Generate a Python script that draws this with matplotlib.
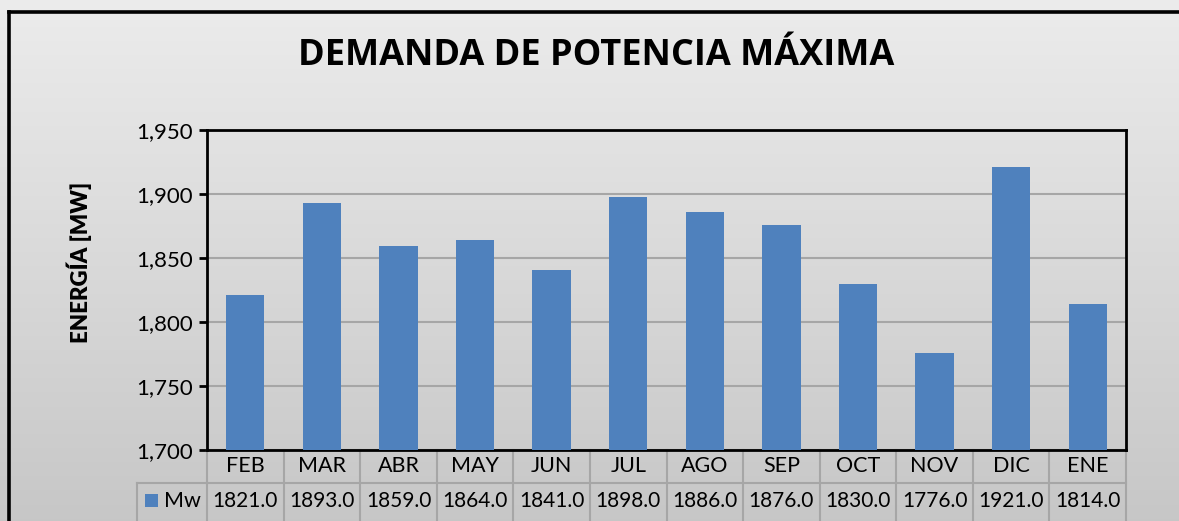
import numpy as np
import matplotlib
matplotlib.use("Agg")
import matplotlib.pyplot as plt
from matplotlib.patches import Rectangle
from matplotlib.lines import Line2D
from matplotlib.ticker import FuncFormatter

categories = ["FEB", "MAR", "ABR", "MAY", "JUN", "JUL", "AGO", "SEP", "OCT", "NOV", "DIC", "ENE"]
values = [1821.0, 1893.0, 1859.0, 1864.0, 1841.0, 1898.0, 1886.0, 1876.0, 1830.0, 1776.0, 1921.0, 1814.0]
series_name = "Mw"
title = "DEMANDA DE POTENCIA MÁXIMA"
ylabel = "ENERGÍA [MW]"
yticks = [1700, 1750, 1800, 1850, 1900, 1950]

W, H = 1179, 521
BAR = "#4F81BD"
GRID = "#A6A6A6"
FONT = "Lato"

fig = plt.figure(figsize=(W / 100, H / 100), dpi=100)

# background gradient
bg = fig.add_axes([0, 0, 1, 1], zorder=-10)
grad = np.linspace(0.925, 0.78, 256).reshape(-1, 1)
bg.imshow(np.dstack([grad, grad, grad]), aspect="auto", extent=[0, 1, 0, 1], origin="upper")
bg.set_xlim(0, 1)
bg.set_ylim(0, 1)
bg.axis("off")

def fx(px):
    return px / W

def fy(py):
    return 1 - py / H

# outer border (cropped at right/bottom)
fig.add_artist(Line2D([fx(8.5), fx(8.5)], [fy(11.5), fy(H + 5)], color="black", lw=2.6, transform=fig.transFigure))
fig.add_artist(Line2D([fx(8.5), fx(W + 5)], [fy(11.5), fy(11.5)], color="black", lw=2.6, transform=fig.transFigure))

L, R, T, B = 207, 1126, 130, 450
ax = fig.add_axes([fx(L), fy(B), fx(R) - fx(L), (B - T) / H])
ax.patch.set_alpha(0)

x = np.arange(len(categories))
ax.bar(x, values, width=0.5, color=BAR, zorder=3)
ax.set_xlim(-0.5, len(categories) - 0.5)
ax.set_ylim(1700, 1950)
ax.set_yticks(yticks)
ax.yaxis.set_major_formatter(FuncFormatter(lambda v, p: f"{int(v):,}"))
ax.grid(axis="y", color=GRID, lw=1.5, zorder=0)
ax.set_xticks([])
for s in ax.spines.values():
    s.set_color("black")
    s.set_linewidth(2)
ax.tick_params(axis="y", direction="out", length=6, width=2, color="black",
               labelsize=16, pad=4, labelcolor="black")
for lab in ax.get_yticklabels():
    lab.set_fontfamily(FONT)

fig.text(fx(596), fy(56), title, ha="center", va="center", fontsize=26,
         fontweight="bold", family="Open Sans", color="black")
fig.text(fx(79), fy(262), ylabel, ha="center", va="center", rotation=90,
         fontsize=16, fontweight="heavy", family=FONT, color="black")

# data table
def ay(py):
    return (B - py) / (B - T)

tr = ax.get_xaxis_transform()
row1 = 483
for i in range(len(categories) + 1):
    xb = i - 0.5
    ax.add_line(Line2D([xb, xb], [ay(B), ay(H + 5)], color=GRID, lw=1.5, transform=tr, clip_on=False))
ax.add_line(Line2D([-0.5, len(categories) - 0.5], [ay(row1), ay(row1)], color=GRID, lw=1.5, transform=tr, clip_on=False))
fig.add_artist(Line2D([fx(137), fx(L)], [fy(row1), fy(row1)], color=GRID, lw=1.5, transform=fig.transFigure))
fig.add_artist(Line2D([fx(137), fx(137)], [fy(row1), fy(H + 5)], color=GRID, lw=1.5, transform=fig.transFigure))

for i, (c, v) in enumerate(zip(categories, values)):
    ax.text(i, ay(466.5), c, transform=tr, ha="center", va="center", fontsize=15.5, family=FONT, color="black")
    ax.text(i, ay(501), f"{v:.1f}", transform=tr, ha="center", va="center", fontsize=15, family=FONT, color="black")

fig.add_artist(Rectangle((fx(145), fy(507)), fx(158) - fx(145), fy(494) - fy(507),
                         facecolor=BAR, edgecolor="none", transform=fig.transFigure))
fig.text(fx(164), fy(501), series_name, ha="left", va="center", fontsize=15.5, family=FONT, color="black")

fig.savefig("out.png", dpi=100)
